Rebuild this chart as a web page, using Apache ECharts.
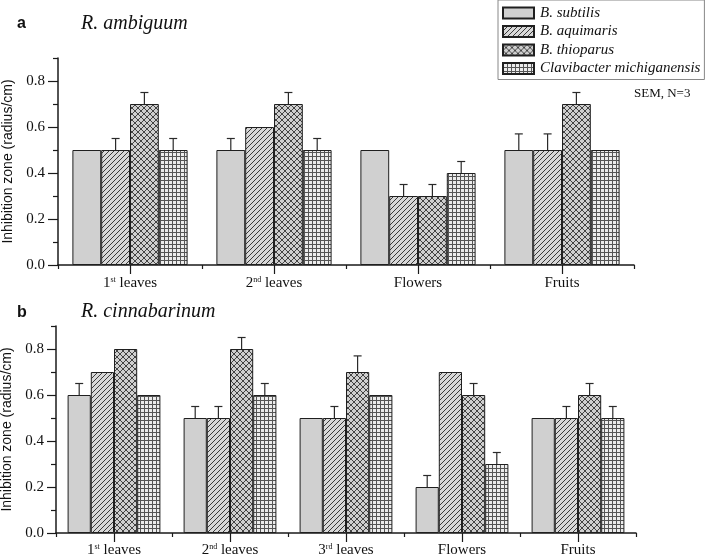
<!DOCTYPE html>
<html><head><meta charset="utf-8">
<script src="https://cdn.jsdelivr.net/npm/echarts@6/dist/echarts.min.js"></script>
<style>html,body{margin:0;padding:0;background:#fff}#c{width:709px;height:555px}</style>
</head><body><div id="c"></div>
<script>
// ---- data ----
const seriesNames = ['B. subtilis', 'B. aquimaris', 'B. thioparus', 'Clavibacter michiganensis'];
const catsA = ['1st leaves', '2nd leaves', 'Flowers', 'Fruits'];
const catsB = ['1st leaves', '2nd leaves', '3rd leaves', 'Flowers', 'Fruits'];
// panel a: R. ambiguum
const aSubtilis = [0.5, 0.5, 0.5, 0.5];
const aAquimaris = [0.5, 0.6, 0.3, 0.5];
const aThioparus = [0.7, 0.7, 0.3, 0.7];
const aClavibacter = [0.5, 0.5, 0.4, 0.5];
const aSubtilisErr = [0, 0.05, 0, 0.07];
const aAquimarisErr = [0.05, 0, 0.05, 0.07];
const aThioparusErr = [0.05, 0.05, 0.05, 0.05];
const aClavibacterErr = [0.05, 0.05, 0.05, 0];
// panel b: R. cinnabarinum
const bSubtilis = [0.6, 0.5, 0.5, 0.2, 0.5];
const bAquimaris = [0.7, 0.5, 0.5, 0.7, 0.5];
const bThioparus = [0.8, 0.8, 0.7, 0.6, 0.6];
const bClavibacter = [0.6, 0.6, 0.6, 0.3, 0.5];
const bSubtilisErr = [0.05, 0.05, 0, 0.05, 0];
const bAquimarisErr = [0, 0.05, 0.05, 0, 0.05];
const bThioparusErr = [0, 0.05, 0.07, 0.05, 0.05];
const bClavibacterErr = [0, 0.05, 0, 0.05, 0.05];
const yMajorTicks = [0, 0.2, 0.4, 0.6, 0.8];
const yMinorTicks = [0.1, 0.3, 0.5, 0.7, 0.9];

// ---- patterns ----
function pat(type) {
  const c = document.createElement('canvas');
  const ctx = c.getContext('2d');
  if (type === 'solid') {
    return '#d0d0d0';
  }
  if (type === 'diag') {
    const s = 5; c.width = s; c.height = s;
    ctx.fillStyle = '#d8d8d8'; ctx.fillRect(0, 0, s, s);
    ctx.strokeStyle = '#3a3a3a'; ctx.lineWidth = 1;
    ctx.beginPath();
    ctx.moveTo(-1, s + 1); ctx.lineTo(s + 1, -1);
    ctx.moveTo(-1, 1); ctx.lineTo(1, -1);
    ctx.moveTo(s - 1, s + 1); ctx.lineTo(s + 1, s - 1);
    ctx.stroke();
  } else if (type === 'cross') {
    const s = 6; c.width = s; c.height = s;
    ctx.fillStyle = '#cfcfcf'; ctx.fillRect(0, 0, s, s);
    ctx.strokeStyle = '#333'; ctx.lineWidth = 0.9;
    ctx.beginPath();
    ctx.moveTo(-1, s + 1); ctx.lineTo(s + 1, -1);
    ctx.moveTo(-1, -1); ctx.lineTo(s + 1, s + 1);
    ctx.moveTo(-1, 1); ctx.lineTo(1, -1);
    ctx.moveTo(s - 1, s + 1); ctx.lineTo(s + 1, s - 1);
    ctx.moveTo(s - 1, -1); ctx.lineTo(s + 1, 1);
    ctx.moveTo(-1, s - 1); ctx.lineTo(1, s + 1);
    ctx.stroke();
  } else if (type === 'grid') {
    const s = 4; c.width = s; c.height = s;
    ctx.fillStyle = '#ececec'; ctx.fillRect(0, 0, s, s);
    ctx.strokeStyle = '#555'; ctx.lineWidth = 1;
    ctx.beginPath();
    ctx.moveTo(0.5, 0); ctx.lineTo(0.5, s);
    ctx.moveTo(0, 0.5); ctx.lineTo(s, 0.5);
    ctx.stroke();
  }
  return { image: c, repeat: 'repeat' };
}
const fills = [pat('solid'), pat('diag'), pat('cross'), pat('grid')];

const serif = '"Liberation Serif", "Times New Roman", serif';
const narrow = '"Liberation Sans Narrow", "Arial Narrow", "Liberation Sans", sans-serif';

function catLabel(v) {
  const m = v.match(/^(\d)(st|nd|rd) (.*)$/);
  if (m) return '{n|' + m[1] + '}{s|' + m[2] + '}{n| ' + m[3] + '}';
  return '{n|' + v + '}';
}
const labelRich = {
  n: { fontFamily: serif, fontSize: 15, color: '#111' },
  s: { fontFamily: serif, fontSize: 8, color: '#111', padding: [0, 0, 7, 0] }
};

function xAxes(gi, cats, margin) {
  return [
    {
      type: 'category', gridIndex: gi, data: cats, position: 'bottom',
      axisLine: { lineStyle: { color: '#1a1a1a', width: 1.5 } },
      axisTick: { show: true, length: 4, interval: 0, lineStyle: { color: '#1a1a1a', width: 1.2 } },
      axisLabel: { interval: 0, margin: margin, formatter: catLabel, rich: labelRich },
      splitLine: { show: false }
    },
    {
      type: 'category', gridIndex: gi, data: cats, position: 'bottom',
      axisLine: { show: false },
      axisTick: { show: true, alignWithLabel: true, length: 9, interval: 0, lineStyle: { color: '#1a1a1a', width: 1.2 } },
      axisLabel: { show: false },
      splitLine: { show: false }
    }
  ];
}
function yAxes(gi, gap, tickLen, margin) {
  return [
    {
      type: 'value', gridIndex: gi, min: 0, max: 0.9, position: 'left',
      name: 'Inhibition zone (radius/cm)', nameLocation: 'middle', nameGap: gap,
      nameTextStyle: { fontFamily: narrow, fontSize: 14, color: '#111' },
      axisLine: { show: true, lineStyle: { color: '#1a1a1a', width: 1.5 } },
      axisTick: { show: true, length: tickLen, customValues: yMajorTicks, lineStyle: { color: '#1a1a1a', width: 1.2 } },
      axisLabel: { customValues: yMajorTicks, margin: margin, fontFamily: serif, fontSize: 15, color: '#111', formatter: v => v.toFixed(1) },
      splitLine: { show: false }
    },
    {
      type: 'value', gridIndex: gi, min: 0, max: 0.9, position: 'left', offset: 0,
      axisLine: { show: false },
      axisTick: { show: true, length: 5, customValues: yMinorTicks, lineStyle: { color: '#1a1a1a', width: 1.2 } },
      axisLabel: { show: false },
      splitLine: { show: false }
    }
  ];
}

function barSeries(name, k, vals, xi, yi) {
  return {
    type: 'bar', name: name, xAxisIndex: xi, yAxisIndex: yi, data: vals,
    barGap: '0%', barCategoryGap: '20%',
    itemStyle: { color: fills[k], borderColor: '#1f1f1f', borderWidth: 1 },
    emphasis: { disabled: true }, z: 2
  };
}
function errSeries(k, vals, errs, xi, yi) {
  const rows = [];
  vals.forEach((v, i) => { if (errs[i] > 0) rows.push([i, v, errs[i]]); });
  return {
    type: 'custom', xAxisIndex: xi, yAxisIndex: yi, data: rows, z: 5, silent: true,
    encode: { x: 0, y: 1 },
    renderItem: function (params, api) {
      const i = api.value(0), v = api.value(1), e = api.value(2);
      const base = api.coord([i, v]);
      const top = api.coord([i, v + e]);
      const band = api.size([1, 0])[0];
      const bw = band * 0.8 / 4;
      const x = base[0] - band * 0.4 + bw * (k + 0.5);
      const st = { stroke: '#2a2a2a', lineWidth: 1.2 };
      return {
        type: 'group', children: [
          { type: 'line', shape: { x1: x, y1: base[1], x2: x, y2: top[1] }, style: st },
          { type: 'line', shape: { x1: x - 4, y1: top[1], x2: x + 4, y2: top[1] }, style: st }
        ]
      };
    }
  };
}

const aVals = [aSubtilis, aAquimaris, aThioparus, aClavibacter];
const aErrs = [aSubtilisErr, aAquimarisErr, aThioparusErr, aClavibacterErr];
const bVals = [bSubtilis, bAquimaris, bThioparus, bClavibacter];
const bErrs = [bSubtilisErr, bAquimarisErr, bThioparusErr, bClavibacterErr];

const series = [];
seriesNames.forEach((n, k) => series.push(barSeries(n, k, aVals[k], 0, 0)));
seriesNames.forEach((n, k) => series.push(barSeries(n, k, bVals[k], 2, 2)));
seriesNames.forEach((n, k) => series.push(errSeries(k, aVals[k], aErrs[k], 0, 0)));
seriesNames.forEach((n, k) => series.push(errSeries(k, bVals[k], bErrs[k], 2, 2)));

const chart = echarts.init(document.getElementById('c'), null, { renderer: 'canvas' });
chart.setOption({
  animation: false,
  backgroundColor: '#fff',
  title: [
    { text: 'a', left: 17, top: 16, padding: 0, textStyle: { fontFamily: '"Liberation Sans", Arial, sans-serif', fontWeight: 'bold', fontSize: 16, color: '#111' } },
    { text: 'R. ambiguum', left: 81, top: 14, padding: 0, textStyle: { fontFamily: serif, fontStyle: 'italic', fontWeight: 'normal', fontSize: 20, color: '#111' } },
    { text: 'b', left: 17, top: 305, padding: 0, textStyle: { fontFamily: '"Liberation Sans", Arial, sans-serif', fontWeight: 'bold', fontSize: 16, color: '#111' } },
    { text: 'R. cinnabarinum', left: 81, top: 302, padding: 0, textStyle: { fontFamily: serif, fontStyle: 'italic', fontWeight: 'normal', fontSize: 20, color: '#111' } },
    { text: 'SEM, N=3', left: 634, top: 87, padding: 0, textStyle: { fontFamily: serif, fontWeight: 'normal', fontSize: 13, color: '#111' } }
  ],
  legend: {
    data: seriesNames, orient: 'vertical', left: 498, top: 0,
    backgroundColor: '#fff', borderColor: '#888', borderWidth: 1,
    padding: [4, 4, 2, 4], itemGap: 0.5, itemWidth: 31, itemHeight: 11,
    icon: 'rect', selectedMode: false,
    textStyle: { fontFamily: serif, fontStyle: 'italic', fontSize: 15, color: '#111', lineHeight: 18, padding: [0, 0, 0, 1] }
  },
  grid: [
    { left: 58, top: 58, width: 576, height: 207, containLabel: false, outerBoundsMode: 'none' },
    { left: 56, top: 326, width: 580, height: 207, containLabel: false, outerBoundsMode: 'none' }
  ],
  xAxis: [...xAxes(0, catsA, 11), ...xAxes(1, catsB, 10)],
  yAxis: [...yAxes(0, 37, 10, 13), ...yAxes(1, 35, 9, 12)],
  series: series
});
</script></body></html>
